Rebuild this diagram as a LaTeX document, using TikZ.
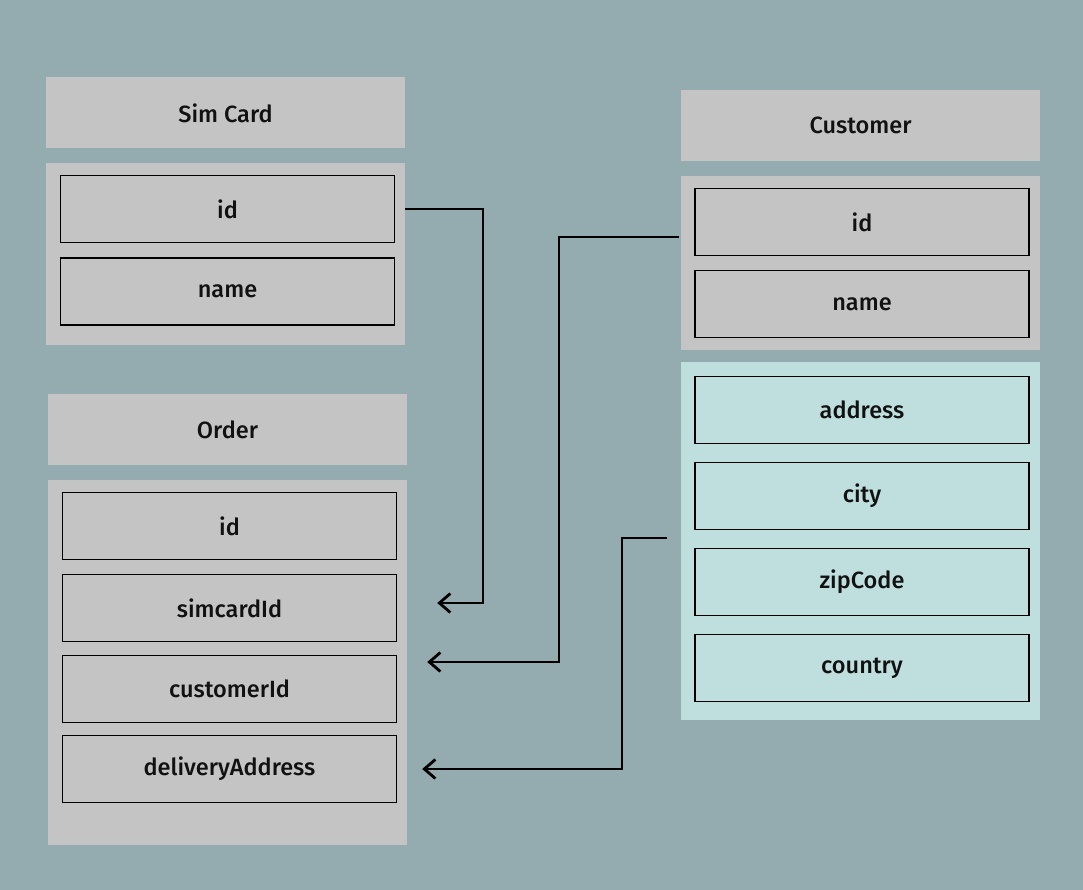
\documentclass[tikz,border=0pt]{standalone}
\usepackage{fontspec}
\setmainfont{Fira Sans}[UprightFont={* Medium}]
\usetikzlibrary{arrows.meta}
\definecolor{bgc}{HTML}{94ABAF}
\definecolor{greyc}{HTML}{C4C4C4}
\definecolor{tealc}{HTML}{BFDFDF}
\definecolor{inkc}{HTML}{111111}
\tikzset{
  panel/.style={fill=#1, draw=none, minimum width=359pt, inner sep=0pt},
  hdr/.style={panel=greyc, minimum height=71pt, font=\fontsize{23.5}{26}\selectfont, text=inkc},
  field/.style={fill=#1, draw=black, line width=1.3pt, minimum width=334pt, minimum height=67pt, inner sep=0pt, font=\fontsize{23.5}{26}\selectfont, text=inkc},
  link/.style={draw=black, line width=2.8pt, line join=miter, -{Straight Barb[length=11pt,width=19pt,line width=2.8pt]}}
}
\begin{document}
\begin{tikzpicture}[x=1pt,y=-1pt]
\fill[bgc] (0,0) rectangle (1083,890);
\useasboundingbox (0,0) rectangle (1083,890);
% Sim Card
\node[hdr] (sch) at (225.5,113) {Sim Card};
\node[panel=greyc, minimum height=182pt] (scb) at (225.5,254) {};
\node[field=greyc] (scid) at (227.5,209) {id};
\node[field=greyc] (scname) at (227.5,291.5) {name};
% Order
\node[hdr] (oh) at (227.5,429.5) {Order};
\node[panel=greyc, minimum height=365pt] (ob) at (227.5,662.5) {};
\node[field=greyc] (oid) at (229.5,526) {id};
\node[field=greyc] (osim) at (229.5,608) {simcardId};
\node[field=greyc] (ocust) at (229.5,689) {customerId};
\node[field=greyc] (odel) at (229.5,769) {deliveryAddress};
% Customer
\node[hdr] (ch) at (860.5,125.5) {Customer};
\node[panel=greyc, minimum height=174pt] (cb) at (860.5,263) {};
\node[field=greyc] (cid) at (862,222) {id};
\node[field=greyc] (cname) at (862,304) {name};
\node[panel=tealc, minimum height=358pt] (tb) at (860.5,541) {};
\node[field=tealc] (caddr) at (862,410) {address};
\node[field=tealc] (ccity) at (862,496) {city};
\node[field=tealc] (czip) at (862,582) {zipCode};
\node[field=tealc] (ccountry) at (862,668) {country};
% connectors
\coordinate (s1) at (scb.east |- scid);
\coordinate (t1) at ([xshift=30pt, yshift=5pt]ob.east |- osim);
\coordinate (s2) at (679,237);
\coordinate (t2) at ([xshift=20pt, yshift=27pt]ob.east |- ocust);
\coordinate (s3) at (667,538);
\coordinate (t3) at ([xshift=15pt]ob.east |- odel);
\draw[link] (s1) -- (483,209) |- (t1);
\draw[link] (s2) -- (559,237) |- (t2);
\draw[link] (s3) -- (622,538) |- (t3);
\end{tikzpicture}
\end{document}
